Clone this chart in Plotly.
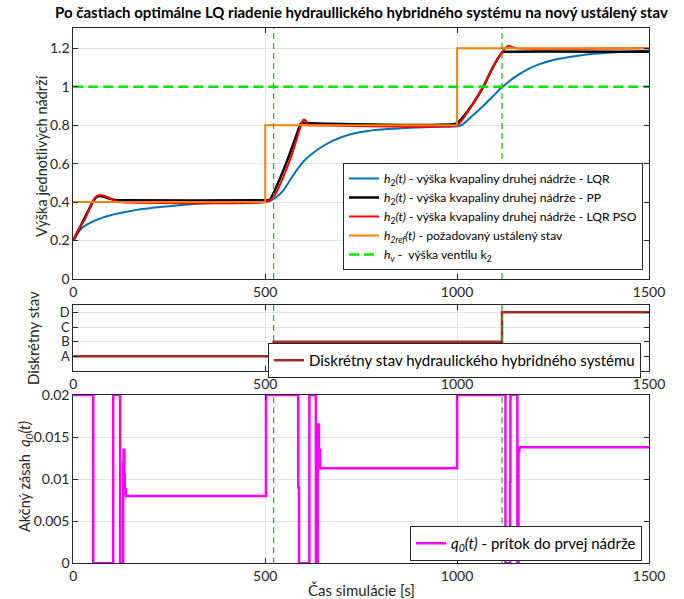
import plotly.graph_objects as go

# ---------------- data ----------------
# h2(t) with the LQR controller
t_lqr = [0, 10, 25, 52, 80, 110, 139, 180, 226, 270, 312, 390, 500,
         512, 525, 547, 573, 599, 634, 677, 720, 764, 820, 880, 950, 1000,
         1015, 1042, 1068, 1094, 1118, 1146, 1181, 1215, 1259, 1320, 1400, 1500]
h2_lqr = [0.20, 0.235, 0.27, 0.30, 0.322, 0.338, 0.35, 0.364, 0.375, 0.383, 0.39, 0.397, 0.40,
          0.405, 0.42, 0.46, 0.54, 0.61, 0.67, 0.72, 0.752, 0.769, 0.78, 0.787, 0.792, 0.795,
          0.805, 0.853, 0.90, 0.952, 1.0, 1.044, 1.088, 1.118, 1.143, 1.163, 1.178, 1.187]

# h2(t) with pole placement
t_pp = [0, 10, 20, 30, 43, 52, 60, 70, 80, 95, 110, 130, 500,
        512, 520, 540, 560, 580, 592, 597, 605, 620, 1000,
        1010, 1042, 1068, 1094, 1112, 1118, 1125, 1500]
h2_pp = [0.20, 0.24, 0.28, 0.32, 0.37, 0.405, 0.425, 0.432, 0.428, 0.418, 0.411, 0.41, 0.41,
         0.412, 0.44, 0.53, 0.63, 0.74, 0.805, 0.815, 0.812, 0.81, 0.81,
         0.83, 0.914, 1.0, 1.105, 1.165, 1.18, 1.182, 1.182]

# h2(t) with PSO-tuned LQR
t_pso = [0, 4, 17, 30, 43, 52, 60, 70, 80, 95, 110, 120, 500,
         512, 525, 547, 570, 590, 599, 605, 614, 625, 1000,
         1010, 1042, 1068, 1094, 1120, 1133, 1145, 1155, 1500]
h2_pso = [0.20, 0.22, 0.27, 0.31, 0.37, 0.41, 0.43, 0.437, 0.433, 0.42, 0.405, 0.40, 0.40,
          0.41, 0.435, 0.53, 0.65, 0.78, 0.828, 0.825, 0.80, 0.80, 0.80,
          0.82, 0.914, 1.0, 1.105, 1.188, 1.213, 1.205, 1.20, 1.20]

# reference steady state and valve height
t_ref = [0, 500, 1000, 1500]
h2_ref = [0.4, 0.8, 1.2, 1.2]
t_hv = [0, 1500]
h_v = [1.0, 1.0]

# switching instants of the discrete state
t_switch = [522, 1117]

# discrete state (A=1, B=2, C=3, D=4)
t_state = [0, 522, 1117, 1500]
state = [1, 2, 4, 4]
state_labels = ["A", "B", "C", "D"]

# control input q0(t)
t_q0 = [0, 52, 104, 122, 130, 131, 133, 134, 137, 502, 586, 588, 615, 632, 637, 640, 643,
        1000, 1126, 1138, 1139, 1157, 1160, 1162, 1500]
q0 = [0.02, 0.0, 0.02, 0.0, 0.012, 0.0135, 0.0105, 0.0088, 0.008, 0.02, 0.009, 0.0, 0.02, 0.0,
      0.0165, 0.0135, 0.0113, 0.02, 0.0, 0.0097, 0.02, 0.0, 0.0133, 0.0138, 0.0138]

# ---------------- figure ----------------
W, H = 684, 599
FONT = "Lato"
AX = "#262626"
GRID = "#e3e3e3"

def px_x(p):
    return p / W

def px_y(p):
    return 1 - p / H

x0, x1 = px_x(73.3), px_x(649)

fig = go.Figure()

smooth = dict(shape="spline", smoothing=0.6)
fig.add_trace(go.Scatter(x=t_lqr, y=h2_lqr, mode="lines", line=dict(color="#0072BD", width=2, **smooth),
                         name="<i>h</i><sub>2</sub><i>(t)</i> - výška kvapaliny druhej nádrže - LQR",
                         xaxis="x", yaxis="y", legend="legend"))
fig.add_trace(go.Scatter(x=t_pp, y=h2_pp, mode="lines", line=dict(color="black", width=2.5, **smooth),
                         name="<i>h</i><sub>2</sub><i>(t)</i> - výška kvapaliny druhej nádrže - PP",
                         xaxis="x", yaxis="y", legend="legend"))
fig.add_trace(go.Scatter(x=t_pso, y=h2_pso, mode="lines", line=dict(color="#FF0000", width=2, **smooth),
                         name="<i>h</i><sub>2</sub><i>(t)</i> - výška kvapaliny druhej nádrže - LQR PSO",
                         xaxis="x", yaxis="y", legend="legend"))
fig.add_trace(go.Scatter(x=t_ref, y=h2_ref, mode="lines", line=dict(color="#FF8000", width=2, shape="hv"),
                         name="<i>h</i><sub><i>2ref</i></sub><i>(t)</i> - požadovaný ustálený stav",
                         xaxis="x", yaxis="y", legend="legend"))
fig.add_trace(go.Scatter(x=t_hv, y=h_v, mode="lines", line=dict(color="#00E600", width=2.5, dash="10px,5px"),
                         name="<i>h</i><sub><i>v</i></sub> -  výška ventilu k<sub>2</sub>",
                         xaxis="x", yaxis="y", legend="legend"))

fig.add_trace(go.Scatter(x=t_state, y=state, mode="lines", line=dict(color="#A52A2A", width=2.5, shape="hv"),
                         name="Diskrétny stav hydraulického hybridného systému",
                         xaxis="x2", yaxis="y2", legend="legend2"))

fig.add_trace(go.Scatter(x=t_q0, y=q0, mode="lines", line=dict(color="#FF00FF", width=2.5, shape="hv"),
                         name="<i>q</i><sub><i>0</i></sub><i>(t)</i> - prítok do prvej nádrže",
                         xaxis="x3", yaxis="y3", legend="legend3"))

# switching instants drawn as thin dashed verticals in every panel
shapes = []
for xr, yr in [("x", "y"), ("x2", "y2"), ("x3", "y3")]:
    for ts in t_switch:
        shapes.append(dict(type="line", xref=xr, yref=yr + " domain", x0=ts, x1=ts, y0=0, y1=1,
                           line=dict(color="#00C800", width=1.2, dash="6px,4px"), layer="above"))

def xaxis(dom_y_anchor):
    return dict(domain=[x0, x1], range=[0, 1500], tickvals=[0, 500, 1000, 1500],
                anchor=dom_y_anchor, showline=True, linecolor=AX, linewidth=1, mirror="ticks",
                ticks="inside", ticklen=5, tickcolor=AX, showgrid=True, gridcolor=GRID,
                zeroline=False, tickfont=dict(family=FONT, size=14, color=AX), automargin=False)

def yaxis(dom, rng, anchor, fsize=14, **kw):
    d = dict(domain=dom, range=rng, anchor=anchor, showline=True, linecolor=AX, linewidth=1,
             mirror="ticks", ticks="inside", ticklen=5, tickcolor=AX, showgrid=True, gridcolor=GRID,
             zeroline=False, tickfont=dict(family=FONT, size=fsize, color=AX), automargin=False)
    d.update(kw)
    return d

legend_common = dict(bgcolor="white", bordercolor=AX, borderwidth=1, tracegroupgap=0,
                     itemwidth=30, xanchor="right", yanchor="top")

fig.update_layout(
    width=W, height=H, margin=dict(l=0, r=0, t=0, b=0),
    paper_bgcolor="white", plot_bgcolor="white",
    font=dict(family=FONT, color=AX),
    xaxis=xaxis("y"),
    yaxis=yaxis([px_y(279), px_y(28)], [0, 1.306], "x",
                tickvals=[0, 0.2, 0.4, 0.6, 0.8, 1.0, 1.2], ticktext=["0", "0.2", "0.4", "0.6", "0.8", "1", "1.2"]),
    xaxis2=xaxis("y2"),
    yaxis2=yaxis([px_y(371), px_y(305)], [0, 4.5], "x2", fsize=13,
                 tickvals=[1, 2, 3, 4], ticktext=state_labels),
    xaxis3=xaxis("y3"),
    yaxis3=yaxis([px_y(563.3), px_y(395)], [0, 0.02], "x3",
                 tickvals=[0, 0.005, 0.01, 0.015, 0.02], ticktext=["0", "0.005", "0.01", "0.015", "0.02"]),
    legend=dict(x=px_x(643), y=px_y(163), font=dict(family=FONT, size=12.2, color="black"), **legend_common),
    legend2=dict(x=px_x(641), y=px_y(343), font=dict(family=FONT, size=15, color="black"), **legend_common),
    legend3=dict(x=px_x(642), y=px_y(526), font=dict(family=FONT, size=15, color="black"), **legend_common),
    shapes=shapes,
    showlegend=True,
)

ann = [
    dict(text="<b>Po častiach optimálne LQ riadenie hydraullického hybridného systému na nový ustálený stav</b>",
         x=px_x(361), y=px_y(12), font=dict(family=FONT, size=15, color="black")),
    dict(text="Výška jednotlivých nádrží", x=px_x(41), y=px_y(156), textangle=-90,
         font=dict(family=FONT, size=14.5, color=AX)),
    dict(text="Diskrétny stav", x=px_x(33), y=px_y(338), textangle=-90,
         font=dict(family=FONT, size=15, color=AX)),
    dict(text="Akčný zásah  <i>q</i><sub><i>0</i></sub><i>(t)</i>", x=px_x(25), y=px_y(477), textangle=-90,
         font=dict(family=FONT, size=14.5, color=AX)),
    dict(text="Čas simulácie [s]", x=px_x(361), y=px_y(590),
         font=dict(family=FONT, size=15, color=AX)),
]
for a in ann:
    a.update(xref="paper", yref="paper", showarrow=False, xanchor="center", yanchor="middle")
fig.update_layout(annotations=ann)

fig.write_html("out.html")
